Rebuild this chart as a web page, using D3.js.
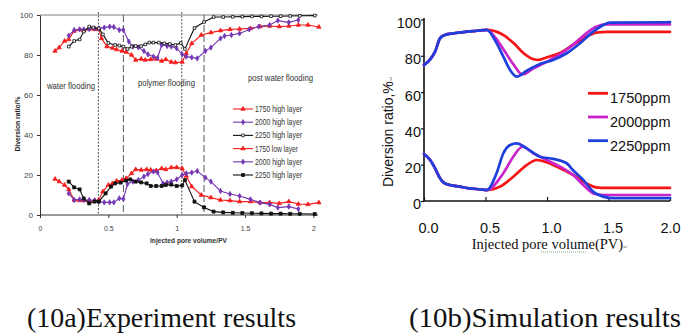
<!DOCTYPE html>
<html>
<head>
<meta charset="utf-8">
<script src="https://cdn.jsdelivr.net/npm/d3@7"></script>
<style>
  html, body { margin: 0; padding: 0; background: #fff; }
  svg { display: block; }
</style>
</head>
<body>
<svg id="fig" width="683" height="336"></svg>
<script>
// ---------- (10a) experiment: diversion ratio per layer ----------
const expTickPV = [0, 0.5, 1, 1.5, 2];
const expTickPVLabels = ["0", "0.5", "1", "1.5", "2"];
const ratioTicks = [0, 20, 40, 60, 80, 100];

const exp1750HighPV = [0.11,0.14,0.18,0.21,0.25,0.29,0.32,0.36,0.40,0.43,0.45,0.49,0.53,0.56,0.60,0.63,0.67,0.70,0.74,0.77,0.81,0.85,0.89,0.92,0.96,0.99,1.04,1.07,1.11,1.18,1.25,1.32,1.39,1.46,1.54,1.61,1.68,1.75,1.82,1.89,1.96,2.04];
const exp1750High   = [82,83.7,87,87.8,92,92.8,92.3,93,92.8,93,88.3,84.2,83.5,82.7,82,81.5,80,77.5,78,77.5,77.8,78,77,77.8,76.5,76.2,76.5,80.8,85.8,90,91.2,92.2,92.8,93,93.3,94.2,94.5,94.2,94.5,95,95,94];

const exp2000HighPV = [0.21,0.25,0.29,0.32,0.36,0.40,0.43,0.47,0.51,0.54,0.58,0.61,0.65,0.68,0.72,0.76,0.79,0.83,0.86,0.89,0.93,0.96,1.00,1.04,1.07,1.11,1.15,1.21,1.25,1.32,1.35,1.40,1.46,1.53,1.60,1.68,1.74,1.82,1.89];
const exp2000High   = [89.7,92.5,92.8,92.8,93,93.3,93.3,93.7,94.2,94,92.5,92.5,86.7,84.2,83.8,82,80.3,79.2,78.5,85,84.5,84.2,83.3,80.3,79.2,78.8,78.3,82,83.7,88.3,89.5,90,90.8,92.8,94.2,95,97.2,96.3,97.5];

const exp2250HighPV = [0.21,0.25,0.29,0.32,0.36,0.39,0.43,0.46,0.50,0.55,0.58,0.61,0.64,0.67,0.70,0.74,0.77,0.80,0.83,0.87,0.91,0.95,0.99,1.03,1.06,1.13,1.20,1.27,1.34,1.41,1.48,1.55,1.62,1.69,1.76,1.83,1.90,2.01];
const exp2250High   = [84.2,87,87.8,91.7,94.2,93.7,93.3,90.3,86,85,84.7,84.2,83,84.2,84.5,84.5,85.3,86.2,86.2,86.2,85.8,85.5,85,86,83,93.5,96.5,99,99,99.1,99.2,99.3,99.3,99.4,99.4,99.5,99.6,99.7];

const exp1750LowPV = [0.11,0.14,0.18,0.21,0.25,0.29,0.32,0.36,0.40,0.43,0.46,0.50,0.53,0.56,0.60,0.63,0.67,0.70,0.74,0.78,0.81,0.85,0.89,0.92,0.96,1.00,1.04,1.07,1.11,1.18,1.25,1.32,1.39,1.46,1.54,1.61,1.68,1.75,1.82,1.89,1.96,2.04];
const exp1750Low   = [18,16.7,15,12.8,7.5,7.3,7.3,6.7,7.3,7.5,11.7,15,15.8,17,17.5,18.3,20.8,22.8,22.5,22.8,22.5,22.2,23.3,22.8,23.7,23.8,23.3,19.5,14.2,10,8.7,7.5,7.2,6.7,6.7,6.2,6.2,5.8,6.7,5.5,5.3,6.2];

const exp2000LowPV = [0.21,0.25,0.29,0.32,0.36,0.40,0.43,0.47,0.51,0.54,0.58,0.61,0.64,0.68,0.72,0.76,0.79,0.83,0.86,0.90,0.93,0.96,1.00,1.04,1.07,1.11,1.15,1.21,1.25,1.32,1.39,1.46,1.54,1.61,1.68,1.74,1.82,1.89];
const exp2000Low   = [10.8,7.5,7.8,7.5,7.5,7.3,6.7,6.3,6.3,6.3,8.3,8,15.5,16.7,17.5,19.2,20.5,21.7,21.3,15.8,16.2,16.7,17.8,20,20.8,21.2,22,18.7,16.7,12,10.5,9.5,7.8,6.2,5.3,3.7,4.2,3];

const exp2250LowPV = [0.21,0.25,0.29,0.32,0.36,0.40,0.43,0.48,0.52,0.55,0.59,0.63,0.66,0.70,0.74,0.78,0.81,0.85,0.89,0.92,0.96,1.00,1.04,1.06,1.13,1.20,1.27,1.34,1.41,1.48,1.55,1.62,1.69,1.76,1.83,1.90,2.01];
const exp2250Low   = [16.7,13.8,12.8,8.3,5.8,6.7,6.7,10.8,14.2,15.8,16.2,17.2,17.8,16.7,16.3,15.8,14.5,14.5,14.5,15,15.2,14.5,14.8,17.5,6.7,3.8,1.7,1.3,1.1,1,0.9,0.8,0.7,0.7,0.6,0.6,0.5];

const expLegendLabels = ["1750 high layer", "2000 high layer", "2250 high layer", "1750 low layer", "2000 high layer", "2250 high layer"];
// stage boundaries (PV) and their dash style
const stageBoundaryPV = [0.427, 0.61, 1.037, 1.20];
const stageBoundaryLong = [false, true, false, true];
const stageLabels = ["water flooding", "polymer flooding", "post water flooding"];

// ---------- (10b) simulation ----------
const simTickPV = [0, 0.5, 1.0, 1.5, 2.0];
const simSharedUpperPV = [0, 0.05, 0.09, 0.13, 0.17, 0.24, 0.35, 0.43, 0.51];
const simSharedUpper   = [74.9, 78, 82.3, 89.6, 91.5, 92.4, 93.3, 93.8, 94.3];
const simSharedLowerPV = [0, 0.05, 0.09, 0.13, 0.16, 0.21, 0.29, 0.37, 0.455, 0.51];
const simSharedLower   = [25.9, 22.6, 18, 12.5, 10.1, 8.8, 7.9, 7, 6.4, 6.0];

const sim1750UpperPV = [0.62,0.73,0.81,0.89,0.93,1.0,1.11,1.21,1.32,1.40,1.49,2.0];
const sim1750Upper   = [92.4,86.9,81.4,78.1,77.7,79.2,81.7,86,90.5,92.8,93.2,93.2];
const sim2000UpperPV = [0.58,0.645,0.73,0.80,0.89,1.0,1.11,1.21,1.32,1.40,1.49,2.0];
const sim2000Upper   = [90,83.6,75,69.7,73.1,76.8,81,86,92.4,96,97.3,97.3];
const sim2250UpperPV = [0.59,0.645,0.70,0.754,0.835,0.943,1.05,1.16,1.268,1.376,1.458,1.51,2.0];
const sim2250Upper   = [87,79.5,72.2,68.5,71.8,75.5,77.7,81.4,86.9,93.3,97,98.3,98.5];

const sim1750LowerPV = [0.618,0.726,0.835,0.916,0.997,1.106,1.214,1.32,1.40,1.485,2.0];
const sim1750Lower   = [7.9,13.4,19.8,22.6,21.3,18,14.3,9.7,7.5,7.2,7.2];
const sim2000LowerPV = [0.645,0.726,0.80,0.889,0.997,1.106,1.214,1.295,1.376,1.458,2.0];
const sim2000Lower   = [15.3,24.4,29.9,26.3,22.6,18.9,14.3,8.8,4.2,3.3,3.3];
const sim2250LowerPV = [0.59,0.645,0.70,0.754,0.835,0.943,1.05,1.16,1.21,1.295,1.376,1.458,1.53,2.0];
const sim2250Lower   = [15.3,26.3,30.9,31.8,29,24.4,23.2,20.8,17.1,11.6,5.1,2.4,1.6,1.6];

const simLegendLabels = ["1750ppm", "2000ppm", "2250ppm"];
const captions = ["(10a)Experiment results", "(10b)Simulation results"];

// ---------------------------------------------------------------
const svg = d3.select("#fig");
const zip = (xs, ys) => xs.map((v, i) => [v, ys[i]]);
const SANS = "'Liberation Sans', Arial, sans-serif";
const SERIF = "'Liberation Serif', 'Times New Roman', serif";

// ===== left panel =====
(function drawExperiment() {
  const g = svg.append("g");
  const x = d3.scaleLinear().domain([0, 2]).range([40, 313.4]);
  const y = d3.scaleLinear().domain([0, 100]).range([215, 15]);

  // top rule of the plot area
  g.append("line").attr("x1", x(0)).attr("x2", 318).attr("y1", y(100)).attr("y2", y(100))
    .attr("stroke", "#808080").attr("stroke-width", 1);

  // stage boundaries
  stageBoundaryPV.forEach((pv, i) => {
    g.append("line")
      .attr("x1", x(pv)).attr("x2", x(pv))
      .attr("y1", stageBoundaryLong[i] ? y(100) : y(100) - 3).attr("y2", y(0))
      .attr("stroke", stageBoundaryLong[i] ? "#444" : "#222")
      .attr("stroke-width", stageBoundaryLong[i] ? 0.9 : 0.8)
      .attr("stroke-dasharray", stageBoundaryLong[i] ? "7,3" : "2,1.5");
  });

  const yAxis = d3.axisLeft(y).tickValues(ratioTicks).tickSize(3).tickPadding(4).tickSizeOuter(0);
  const ya = g.append("g").attr("transform", `translate(${x(0)},0)`).call(yAxis);
  ya.select(".domain").attr("stroke", "#333");
  ya.selectAll(".tick line").attr("stroke", "#333");
  ya.selectAll("text").attr("font-family", SANS).attr("font-size", 8).attr("fill", "#444");

  const xAxis = d3.axisBottom(x).tickValues(expTickPV).tickFormat((d, i) => expTickPVLabels[i])
    .tickSize(3).tickPadding(7).tickSizeOuter(0);
  const xa = g.append("g").attr("transform", `translate(0,${y(0)})`).call(xAxis);
  xa.select(".domain").remove();
  xa.selectAll(".tick line").attr("stroke", "#333");
  xa.selectAll("text").attr("font-family", SANS).attr("font-size", 8).attr("fill", "#444")
    .attr("transform", "scale(0.86,1)");
  g.append("line").attr("x1", x(0)).attr("x2", 318).attr("y1", y(0)).attr("y2", y(0))
    .attr("stroke", "#333").attr("stroke-width", 1);

  // axis titles
  g.append("text")
    .attr("transform", `translate(20,124) rotate(-90)`)
    .attr("text-anchor", "middle")
    .attr("font-family", SANS).attr("font-weight", "bold").attr("font-size", 7.6).attr("fill", "#222")
    .attr("textLength", 55).attr("lengthAdjust", "spacingAndGlyphs")
    .text("Diversion ratio/%");
  g.append("text")
    .attr("x", 188.5).attr("y", 243).attr("text-anchor", "middle")
    .attr("font-family", SANS).attr("font-weight", "bold").attr("font-size", 7.4).attr("fill", "#333")
    .attr("textLength", 77).attr("lengthAdjust", "spacingAndGlyphs")
    .text("Injected pore volume/PV");

  // stage labels
  const stagePos = [[47, 89, 48], [138, 86, 57], [248, 81, 65]];
  stageLabels.forEach((t, i) => {
    g.append("text").attr("x", stagePos[i][0]).attr("y", stagePos[i][1])
      .attr("font-family", SANS).attr("font-size", 9).attr("fill", "#333")
      .attr("textLength", stagePos[i][2]).attr("lengthAdjust", "spacingAndGlyphs")
      .text(t);
  });

  const RED = "#f51c1c", PURPLE = "#7436b4", BLACK = "#111";
  const series = [
    { pv: exp1750HighPV, v: exp1750High, color: RED,    sym: d3.symbolTriangle, size: 8, fill: RED },
    { pv: exp2000HighPV, v: exp2000High, color: PURPLE, sym: d3.symbolDiamond,  size: 8, fill: PURPLE },
    { pv: exp2250HighPV, v: exp2250High, color: BLACK,  sym: d3.symbolSquare,   size: 7, fill: "#fff" },
    { pv: exp1750LowPV,  v: exp1750Low,  color: RED,    sym: d3.symbolTriangle, size: 8, fill: RED },
    { pv: exp2000LowPV,  v: exp2000Low,  color: PURPLE, sym: d3.symbolDiamond,  size: 8, fill: PURPLE },
    { pv: exp2250LowPV,  v: exp2250Low,  color: BLACK,  sym: d3.symbolSquare,   size: 9, fill: BLACK },
  ];
  const line = d3.line().x(d => x(d[0])).y(d => y(d[1]));

  series.forEach(s => {
    const pts = zip(s.pv, s.v);
    g.append("path").datum(pts).attr("d", line)
      .attr("fill", "none").attr("stroke", s.color).attr("stroke-width", 1.1);
    g.selectAll(null).data(pts).enter().append("path")
      .attr("d", d3.symbol().type(s.sym).size(s.size))
      .attr("transform", d => `translate(${x(d[0])},${y(d[1])})`)
      .attr("fill", s.fill).attr("stroke", s.color).attr("stroke-width", 0.8);
  });

  // legend
  expLegendLabels.forEach((t, i) => {
    const s = series[i];
    const ly = 109 + i * 13.2;
    g.append("line").attr("x1", 233).attr("x2", 253).attr("y1", ly).attr("y2", ly)
      .attr("stroke", s.color).attr("stroke-width", 1.1);
    g.append("path").attr("d", d3.symbol().type(s.sym).size(s.size))
      .attr("transform", `translate(243,${ly})`)
      .attr("fill", s.fill).attr("stroke", s.color).attr("stroke-width", 0.8);
    g.append("text").attr("x", 255).attr("y", ly + 3)
      .attr("font-family", SANS).attr("font-size", 8.2).attr("fill", "#333")
      .attr("textLength", t.indexOf("low") >= 0 ? 43 : 47).attr("lengthAdjust", "spacingAndGlyphs")
      .text(t);
  });
})();

// ===== right panel =====
(function drawSimulation() {
  const g = svg.append("g");
  const x = d3.scaleLinear().domain([0, 2]).range([424, 670]);
  const y = d3.scaleLinear().domain([0, 100]).range([201, 19.5]);

  const yAxis = d3.axisLeft(y).tickValues(ratioTicks).tickSize(3).tickPadding(0).tickSizeOuter(0);
  const ya = g.append("g").attr("transform", `translate(${x(0)},0)`).call(yAxis);
  ya.select(".domain").remove();
  ya.selectAll(".tick line").attr("stroke", "#111").attr("stroke-width", 1.2);
  ya.selectAll("text").attr("font-family", SANS).attr("font-size", 14.5).attr("fill", "#111")
    .attr("dy", "0.55em");
  g.append("line").attr("x1", x(0)).attr("x2", x(0)).attr("y1", 18).attr("y2", y(0))
    .attr("stroke", "#111").attr("stroke-width", 1.6);

  const xAxis = d3.axisBottom(x).tickValues(simTickPV).tickFormat(d3.format(".1f"))
    .tickSizeInner(-4).tickSizeOuter(0).tickPadding(21.5);
  const xa = g.append("g").attr("transform", `translate(0,${y(0)})`).call(xAxis);
  xa.select(".domain").remove();
  xa.selectAll(".tick line").attr("stroke", "#111").attr("stroke-width", 1.2);
  xa.selectAll("text").attr("font-family", SANS).attr("font-size", 14.5).attr("fill", "#111")
    .attr("dx", (d, i) => (i === simTickPV.length - 1 ? 0 : 4));
  g.append("line").attr("x1", x(0)).attr("x2", x(2)).attr("y1", y(0)).attr("y2", y(0))
    .attr("stroke", "#111").attr("stroke-width", 1.6);

  // axis titles
  const yt = g.append("text")
    .attr("transform", "translate(393,187) rotate(-90)")
    .attr("font-family", SANS).attr("font-size", 14).attr("fill", "#111");
  yt.append("tspan").text("Diversion ratio,%");
  yt.append("tspan").attr("font-size", 6).attr("fill", "#888").text("\u21B5");

  const xt = g.append("text").attr("x", 471.7).attr("y", 249)
    .attr("font-family", SERIF).attr("font-size", 14.5).attr("fill", "#111");
  xt.append("tspan").text("Injected pore volume(PV)");
  xt.append("tspan").attr("font-size", 6).attr("fill", "#888").text("\u21B5");
  g.append("line").attr("x1", 541).attr("x2", 586).attr("y1", 252).attr("y2", 252)
    .attr("stroke", "#6aa06a").attr("stroke-width", 0.8).attr("stroke-dasharray", "1,1");

  const RED = "#f41414", MAGENTA = "#c924c9", BLUE = "#1f3fdc";
  const curves = [
    { color: RED,     up: [sim1750UpperPV, sim1750Upper], lo: [sim1750LowerPV, sim1750Lower] },
    { color: MAGENTA, up: [sim2000UpperPV, sim2000Upper], lo: [sim2000LowerPV, sim2000Lower] },
    { color: BLUE,    up: [sim2250UpperPV, sim2250Upper], lo: [sim2250LowerPV, sim2250Lower] },
  ];
  const line = d3.line().x(d => x(d[0])).y(d => y(d[1])).curve(d3.curveMonotoneX);

  curves.forEach(c => {
    const upper = zip(simSharedUpperPV, simSharedUpper).concat(zip(c.up[0], c.up[1]));
    const lower = zip(simSharedLowerPV, simSharedLower).concat(zip(c.lo[0], c.lo[1]));
    [upper, lower].forEach(pts => {
      g.append("path").datum(pts).attr("d", line)
        .attr("fill", "none").attr("stroke", c.color).attr("stroke-width", 2.7)
        .attr("stroke-linejoin", "round").attr("stroke-linecap", "round");
    });
  });

  // legend
  simLegendLabels.forEach((t, i) => {
    const ly = 93.3 + i * 23.7;
    g.append("line").attr("x1", 588).attr("x2", 608).attr("y1", ly).attr("y2", ly)
      .attr("stroke", curves[i].color).attr("stroke-width", 2.8);
    g.append("text").attr("x", 610).attr("y", ly + 10)
      .attr("font-family", SANS).attr("font-size", 14.5).attr("fill", "#111").text(t);
  });
})();

// ===== captions =====
const capPos = [[27, 269], [409, 272]];
captions.forEach((t, i) => {
  svg.append("text").attr("x", capPos[i][0]).attr("y", 327)
    .attr("font-family", SERIF).attr("font-size", 27).attr("fill", "#111")
    .attr("textLength", capPos[i][1]).attr("lengthAdjust", "spacingAndGlyphs")
    .text(t);
});
</script>
</body>
</html>
